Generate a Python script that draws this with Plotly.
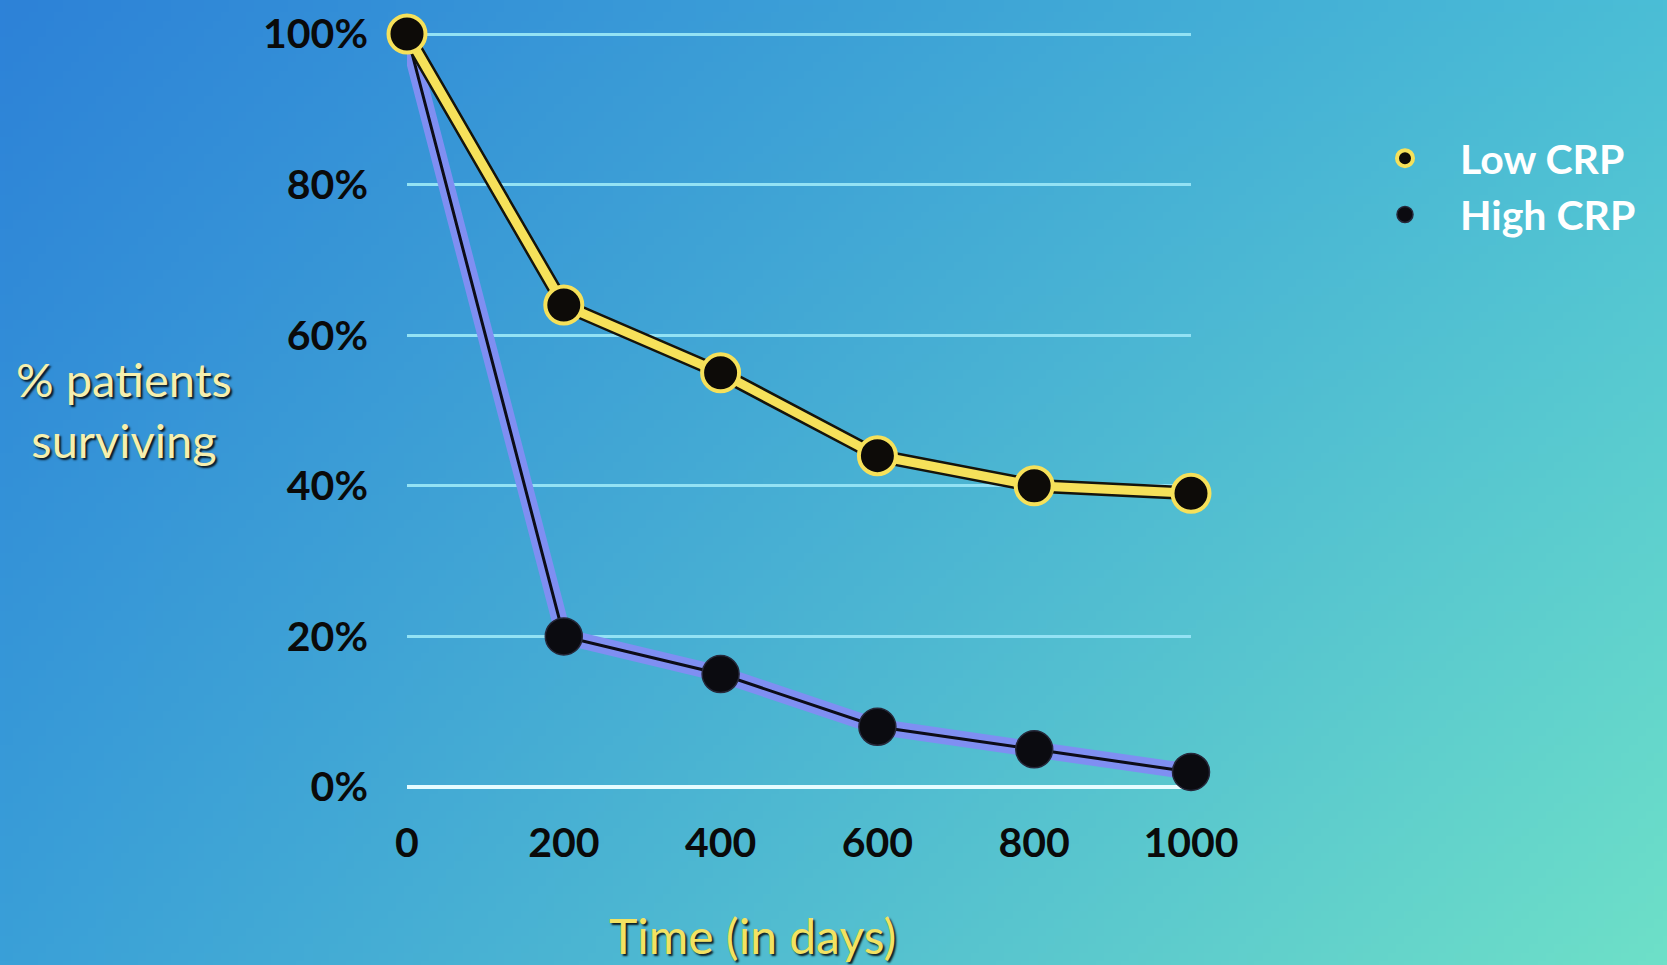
import base64
import struct
import zlib

import numpy as np
import plotly.graph_objects as go

# Survival over time by CRP group
days = [0, 200, 400, 600, 800, 1000]
low_crp = [100, 64, 55, 44, 40, 39]
high_crp = [100, 20, 15, 8, 5, 2]

y_ticks = [0, 20, 40, 60, 80, 100]
y_labels = [f"{v}%" for v in y_ticks]
x_ticks = [0, 200, 400, 600, 800, 1000]

W, H = 1667, 965


def gradient_png(w, h, tl, tr, bl, br):
    """Small PNG with a bilinear four-corner colour blend, as a data URI."""
    u = np.linspace(0, 1, w)[None, :, None]
    v = np.linspace(0, 1, h)[:, None, None]
    tl, tr, bl, br = (np.array(c, float)[None, None, :] for c in (tl, tr, bl, br))
    top = tl * (1 - u) + tr * u
    bot = bl * (1 - u) + br * u
    img = np.clip(top * (1 - v) + bot * v, 0, 255).astype(np.uint8)
    raw = b"".join(b"\x00" + img[r].tobytes() for r in range(h))

    def chunk(tag, data):
        return (struct.pack(">I", len(data)) + tag + data
                + struct.pack(">I", zlib.crc32(tag + data) & 0xFFFFFFFF))

    png = (b"\x89PNG\r\n\x1a\n"
           + chunk(b"IHDR", struct.pack(">IIBBBBB", w, h, 8, 2, 0, 0, 0))
           + chunk(b"IDAT", zlib.compress(raw, 9))
           + chunk(b"IEND", b""))
    return "data:image/png;base64," + base64.b64encode(png).decode()


bg = gradient_png(200, 116,
                  (45, 130, 216), (75, 190, 214),
                  (58, 160, 216), (110, 224, 200))

YELLOW = "#f6e15a"
fig = go.Figure()

# High CRP: lavender band with a thin dark line on top
fig.add_trace(go.Scatter(x=days, y=high_crp, mode="lines",
                         line=dict(color="#7f8ff2", width=16),
                         showlegend=False, hoverinfo="skip", cliponaxis=False))
fig.add_trace(go.Scatter(x=days, y=high_crp, mode="lines",
                         line=dict(color="#0c0c18", width=3),
                         showlegend=False, hoverinfo="skip", cliponaxis=False))
fig.add_trace(go.Scatter(x=days, y=high_crp, mode="markers", name="High CRP",
                         legendgroup="high", legendrank=2,
                         marker=dict(size=37, color="#0b0b10",
                                     line=dict(color="#26283a", width=1.5)),
                         cliponaxis=False))

# Low CRP: yellow line with a dark outline, ringed markers
fig.add_trace(go.Scatter(x=days, y=low_crp, mode="lines",
                         line=dict(color="#15140c", width=14),
                         showlegend=False, hoverinfo="skip", cliponaxis=False))
fig.add_trace(go.Scatter(x=days, y=low_crp, mode="lines",
                         line=dict(color=YELLOW, width=9),
                         showlegend=False, hoverinfo="skip", cliponaxis=False))
fig.add_trace(go.Scatter(x=days, y=low_crp, mode="markers", name="Low CRP",
                         legendgroup="low", legendrank=1,
                         marker=dict(size=37, color="#0d0b08",
                                     line=dict(color=YELLOW, width=4)),
                         cliponaxis=False))

tick_font = dict(family="Lato", size=41, color="#0a0a0a", weight="bold")

# a little slack around 0-100 so the 100% gridline is kept
Y_PAD = 0.5
px_per_unit = (787 - 34) / 100
y_dom = [1 - (787 + Y_PAD * px_per_unit) / H, 1 - (34 - Y_PAD * px_per_unit) / H]

fig.update_layout(
    width=W, height=H,
    margin=dict(l=0, r=0, t=0, b=0, pad=0),
    paper_bgcolor="#3fa8d6",
    plot_bgcolor="rgba(0,0,0,0)",
    images=[dict(source=bg, xref="paper", yref="paper", x=0, y=1,
                 sizex=1, sizey=1, xanchor="left", yanchor="top",
                 sizing="stretch", layer="below")],
    xaxis=dict(domain=[407 / W, 1191 / W], range=[0, 1000],
               tickvals=x_ticks, showgrid=False, zeroline=False,
               showline=False, ticks="", tickfont=tick_font,
               ticklabelstandoff=24, automargin=False, fixedrange=True),
    yaxis=dict(domain=y_dom, range=[-Y_PAD, 100 + Y_PAD],
               tickvals=y_ticks, ticktext=y_labels, showgrid=True,
               gridcolor="#93e2f4", gridwidth=2.5,
               zeroline=True, zerolinecolor="#e6fcff", zerolinewidth=4,
               showline=False, ticks="", tickfont=tick_font,
               ticklabelstandoff=38, automargin=False, fixedrange=True),
    legend=dict(x=(1405 - 55) / W, y=1 - 125 / H, xanchor="left", yanchor="top",
                bgcolor="rgba(0,0,0,0)", borderwidth=0, itemwidth=100,
                font=dict(family="Lato", size=41, color="#ffffff", weight="bold"),
                traceorder="grouped", tracegroupgap=0),
    annotations=[
        dict(text="% patients<br>surviving", xref="paper", yref="paper",
             x=124 / W, y=1 - 410 / H, xanchor="center", yanchor="middle",
             showarrow=False, align="center",
             font=dict(family="Lato", size=47, color="#f6efae",
                       shadow="2px 2px 2px rgba(0,0,0,0.85)")),
        dict(text="Time (in days)", xref="paper", yref="paper",
             x=752 / W, y=1 - 935 / H, xanchor="center", yanchor="middle",
             showarrow=False,
             font=dict(family="Lato", size=48, color="#f2e262",
                       shadow="2px 2px 2px rgba(0,0,0,0.85)")),
    ],
)

fig.write_html("out.html")
